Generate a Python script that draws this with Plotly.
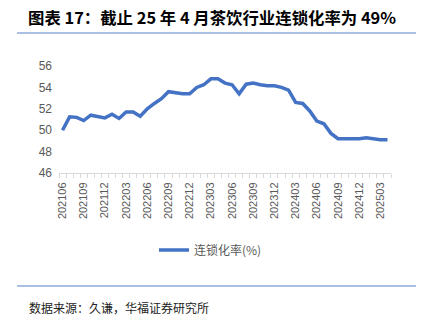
import plotly.graph_objects as go

months = ["202106","202107","202108","202109","202110","202111","202112",
          "202201","202202","202203","202204","202205","202206","202207","202208","202209","202210","202211","202212",
          "202301","202302","202303","202304","202305","202306","202307","202308","202309","202310","202311","202312",
          "202401","202402","202403","202404","202405","202406","202407","202408","202409","202410","202411","202412",
          "202501","202502","202503","202504"]
rate = [50.0, 51.25, 51.2, 50.9, 51.4, 51.3, 51.15,
        51.5, 51.1, 51.7, 51.7, 51.3, 52.0, 52.5, 52.95, 53.6, 53.5, 53.4, 53.4,
        54.0, 54.25, 54.8, 54.8, 54.4, 54.25, 53.4, 54.3, 54.4, 54.25, 54.15, 54.15,
        54.0, 53.75, 52.6, 52.5, 51.8, 50.85, 50.6, 49.7, 49.2, 49.2, 49.2, 49.2,
        49.3, 49.2, 49.1, 49.1]
series_name = "连锁化率(%)"
title_text = "图表 17：截止 25 年 4 月茶饮行业连锁化率为 49%"
source_text = "数据来源：久谦，华福证券研究所"
y_ticks = [46, 48, 50, 52, 54, 56]

W, H = 428, 323
L, R, T, B = 59, 391, 66, 173  # plot area in px

def px2paper(x, y):
    return (x - L) / (R - L), (B - y) / (B - T)

xi = list(range(len(months)))
tick_idx = xi[::3]
tick_txt = months[::3]

fig = go.Figure()
fig.add_trace(go.Scatter(x=xi, y=rate, mode="lines", name=series_name,
                         line=dict(color="#4472C4", width=3.5)))

CJK = "Noto Sans CJK SC"
fig.update_layout(
    width=W, height=H,
    margin=dict(l=L, r=W - R, t=T, b=H - B, pad=0),
    paper_bgcolor="white", plot_bgcolor="white",
    title=dict(text="<b>" + title_text + "</b>", x=28 / W, xanchor="left",
               y=1 - 18 / H, yanchor="middle", xref="container", yref="container",
               font=dict(family=CJK, size=16.4, color="#000000")),
    showlegend=True,
    legend=dict(orientation="h", xref="container", yref="container",
                x=154 / W, xanchor="left", y=1 - 250 / H, yanchor="middle",
                font=dict(family=CJK, size=12, color="#595959"),
                bgcolor="rgba(0,0,0,0)"),
    xaxis=dict(range=[-0.5, len(months) - 0.5], tickmode="array", tickvals=tick_idx,
               ticktext=tick_txt, tickangle=-90, ticks="", showgrid=False, zeroline=False,
               showline=True, linecolor="#D9D9D9", linewidth=1,
               tickfont=dict(family="Liberation Sans", size=11, color="#595959"),
               ticklabelstandoff=4,
               minor=dict(tickmode="array", tickvals=[i - 0.5 for i in range(len(months) + 1)],
                          ticks="outside", ticklen=4, tickcolor="#D9D9D9", tickwidth=1, showgrid=False)),
    yaxis=dict(range=[46, 56], tickmode="array", tickvals=y_ticks, showgrid=False,
               zeroline=False, showline=False, ticks="",
               tickfont=dict(family="Liberation Sans", size=12, color="#595959"),
               ticklabelstandoff=6),
)

x0, y0 = px2paper(17, 33)
x1, _ = px2paper(416, 33)
fig.add_shape(type="line", xref="paper", yref="paper", x0=x0, x1=x1, y0=y0, y1=y0,
              line=dict(color="#8EAADB", width=1.5))
_, yb = px2paper(17, 286)
fig.add_shape(type="line", xref="paper", yref="paper", x0=x0, x1=x1, y0=yb, y1=yb,
              line=dict(color="#8EAADB", width=1.5))
sx, sy = px2paper(27, 307)
fig.add_annotation(text=source_text, xref="paper", yref="paper", x=sx, y=sy,
                   xanchor="left", yanchor="middle", showarrow=False,
                   font=dict(family=CJK, size=12, color="#222222"))

fig.write_html("out.html")
